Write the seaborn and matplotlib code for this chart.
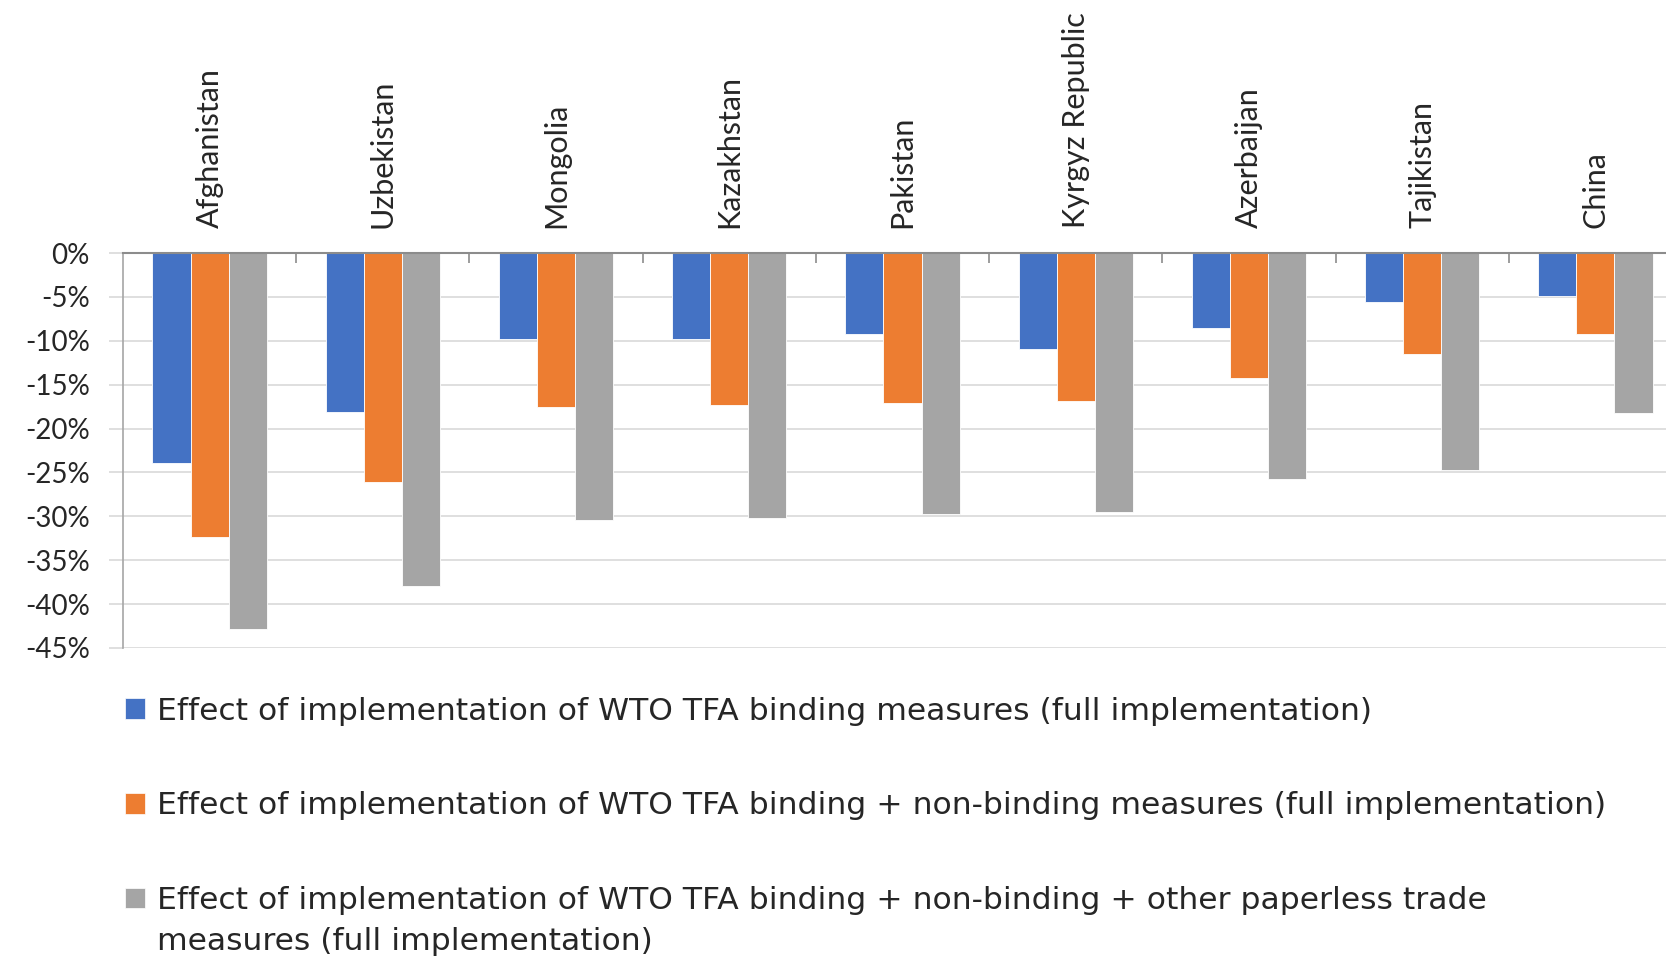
import numpy as np
import pandas as pd
import seaborn as sns
from matplotlib import pyplot as plt
from matplotlib.patches import Patch
from matplotlib.ticker import FixedLocator, FuncFormatter

# data (percent change)
countries = ['Afghanistan', 'Uzbekistan', 'Mongolia', 'Kazakhstan', 'Pakistan',
             'Kyrgyz Republic', 'Azerbaijan', 'Tajikistan', 'China']
binding = [-23.9, -18.1, -9.8, -9.8, -9.2, -10.9, -8.6, -5.6, -4.9]
binding_nonbinding = [-32.3, -26.1, -17.5, -17.3, -17.1, -16.9, -14.2, -11.5, -9.2]
binding_nonbinding_paperless = [-42.8, -37.9, -30.4, -30.2, -29.7, -29.5, -25.7, -24.7, -18.2]

series = ['Effect of implementation of WTO TFA binding measures (full implementation)',
          'Effect of implementation of WTO TFA binding + non-binding measures (full implementation)',
          'Effect of implementation of WTO TFA binding + non-binding + other paperless trade']
series_wrap = 'measures (full implementation)'
colors = ['#4472C4', '#ED7D31', '#A5A5A5']

df = pd.DataFrame({
    'Country': countries * 3,
    'Series': [series[0]] * 9 + [series[1]] * 9 + [series[2]] * 9,
    'Value': binding + binding_nonbinding + binding_nonbinding_paperless,
})

sns.set_theme(style='white')
plt.rcParams['font.family'] = ['Lato', 'DejaVu Sans']
fs = 20
leg_fs = 22.6
leg_font = ['DejaVu Sans']

fig = plt.figure(figsize=(16.66, 9.57), dpi=100)
W, H = 1666, 957
ax = fig.add_axes([123 / W, 1 - 648 / H, (1682 - 123) / W, (648 - 253) / H])

sns.barplot(data=df, x='Country', y='Value', hue='Series', order=countries,
            hue_order=series, palette=colors, width=0.66, gap=0,
            edgecolor='white', linewidth=0.6, saturation=1, ax=ax, legend=False)

ax.set_ylim(-45, 0)
ax.set_xlim(-0.5, 8.5)
ax.set_yticks(np.arange(-45, 1, 5))
ax.yaxis.set_major_formatter(FuncFormatter(lambda v, p: f'{v:.0f}%'))
ax.grid(axis='y', color='#d9d9d9', linewidth=1.2)
ax.set_axisbelow(True)
ax.set_xlabel('')
ax.set_ylabel('')

for s in ['right', 'bottom']:
    ax.spines[s].set_visible(False)
ax.spines['top'].set_color('#8c8c8c')
ax.spines['top'].set_linewidth(1.5)
ax.spines['left'].set_color('#a6a6a6')
ax.spines['left'].set_linewidth(1.2)

ax.xaxis.tick_top()
ax.set_xticks(range(len(countries)))
ax.set_xticklabels(countries, rotation=90, fontsize=22, color='#262626')
ax.tick_params(axis='x', which='major', length=0, pad=18)
ax.xaxis.set_minor_locator(FixedLocator(np.arange(0.5, 8, 1)))
ax.tick_params(axis='x', which='minor', top=True, direction='in', length=7,
               width=1.2, color='#8c8c8c')
ax.tick_params(axis='y', left=True, length=10, width=1.2, color='#d9d9d9',
               labelsize=fs, labelcolor='#262626', pad=14)

handles = [Patch(facecolor=c, edgecolor='white', linewidth=0.5) for c in colors]
leg = fig.legend(handles, series, loc='center left', bbox_to_anchor=(125 / W, 1 - 806 / H),
                 frameon=False, prop={'family': leg_font, 'size': leg_fs},
                 handlelength=0.64, handleheight=0.61,
                 handletextpad=0.38, labelspacing=2.1, borderpad=0, borderaxespad=0)
for t in leg.get_texts():
    t.set_color('#262626')

fig.canvas.draw()
bb = leg.get_texts()[2].get_window_extent()
x0 = bb.x0 / (fig.dpi * fig.get_figwidth())
fig.text(x0, 1 - 942 / H, series_wrap, fontsize=leg_fs, family=leg_font,
         color='#262626', va='center', ha='left')

fig.savefig('out.png', dpi=100)
